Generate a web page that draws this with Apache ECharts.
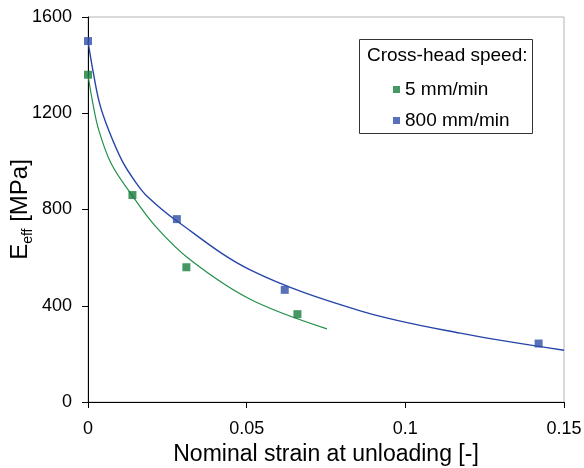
<!DOCTYPE html>
<html>
<head>
<meta charset="utf-8">
<script src="https://cdn.jsdelivr.net/npm/echarts@6/dist/echarts.min.js"></script>
<style>
  html, body { margin: 0; padding: 0; background: #fff; }
  #main { width: 584px; height: 468px; }
</style>
</head>
<body>
<div id="main"></div>
<script>
// measured points [strain, E_eff]
var slowPts = [[0, 1360], [0.014, 860], [0.031, 560], [0.066, 365]];
var fastPts = [[0, 1500], [0.028, 760], [0.062, 466], [0.142, 243]];

// trend lines
var slowFit = [[0, 1360], [0.0015, 1243], [0.0034, 1130], [0.0073, 991], [0.0136, 864],
  [0.0212, 731], [0.0322, 591], [0.0511, 427], [0.0753, 304]];
var fastFit = [[0, 1500], [0.0015, 1381], [0.0036, 1243], [0.0065, 1130], [0.0108, 1001],
  [0.0151, 912], [0.0187, 854], [0.028, 752], [0.0511, 549], [0.0858, 379],
  [0.1173, 286], [0.15, 215]];

var xTicks = [0, 0.05, 0.1, 0.15];
var yTicks = [0, 400, 800, 1200, 1600];

var green = '#167D3C';
var blue = '#2F4EA8';
var font = 'Liberation Sans, Arial, sans-serif';

var myChart = echarts.init(document.getElementById('main'));

var option = {
  backgroundColor: '#fff',
  animation: false,
  textStyle: { fontFamily: font },
  grid: {
    left: 88, right: 20, top: 17, bottom: 66,
    outerBoundsMode: 'none',
    show: true, borderColor: '#b4b4b4', borderWidth: 1
  },
  xAxis: {
    type: 'value',
    min: xTicks[0], max: xTicks[xTicks.length - 1], interval: 0.05,
    name: 'Nominal strain at unloading [-]',
    nameLocation: 'middle', nameGap: 40,
    nameTextStyle: { fontSize: 23, color: '#000', fontFamily: font },
    axisLine: { lineStyle: { color: '#000', width: 1 } },
    axisTick: { length: 6, lineStyle: { color: '#000' } },
    axisLabel: { fontSize: 18, color: '#000', margin: 18, fontFamily: font },
    splitLine: { show: false }
  },
  yAxis: {
    type: 'value',
    min: yTicks[0], max: yTicks[yTicks.length - 1], interval: 400,
    name: '{e|E}{s|eff}{e| [MPa]}',
    nameLocation: 'middle', nameGap: 56, nameMoveOverlap: false,
    nameTextStyle: {
      color: '#000',
      rich: {
        e: { fontSize: 24, fontFamily: font, color: '#000' },
        s: { fontSize: 14, fontFamily: font, color: '#000', verticalAlign: 'bottom', padding: [0, 0, -3, 0] }
      }
    },
    axisLine: { show: true, lineStyle: { color: '#000', width: 1 } },
    axisTick: { show: true, length: 6, lineStyle: { color: '#000' } },
    axisLabel: {
      fontSize: 18, color: '#000', margin: 16, fontFamily: font,
      formatter: function (v) { return String(v); }
    },
    splitLine: { show: false }
  },
  legend: {
    data: ['5 mm/min', '800 mm/min'],
    orient: 'vertical',
    left: 388, top: 75,
    itemWidth: 7, itemHeight: 7, itemGap: 12,
    icon: 'rect',
    textStyle: { fontSize: 19, color: '#000', fontFamily: font }
  },
  graphic: [
    {
      type: 'rect', left: 359, top: 39, z: 0,
      shape: { width: 173, height: 94 },
      style: { fill: '#fff', stroke: '#333', lineWidth: 1 }
    },
    {
      type: 'text', left: 367, top: 46, z: 1,
      style: { text: 'Cross-head speed:', font: '19px ' + font, fill: '#000' }
    }
  ],
  series: [
    {
      name: 'slow fit', type: 'line', data: slowFit, smooth: 0.35,
      showSymbol: false, lineStyle: { color: '#22904A', width: 1.2 }, z: 2
    },
    {
      name: 'fast fit', type: 'line', data: fastFit, smooth: 0.35,
      showSymbol: false, lineStyle: { color: '#2646A8', width: 1.4 }, z: 2
    },
    {
      name: '5 mm/min', type: 'scatter', data: slowPts, symbol: 'rect', symbolSize: 8,
      itemStyle: { color: green }, z: 3
    },
    {
      name: '800 mm/min', type: 'scatter', data: fastPts, symbol: 'rect', symbolSize: 8,
      itemStyle: { color: blue }, z: 3
    }
  ]
};

myChart.setOption(option);
</script>
</body>
</html>
